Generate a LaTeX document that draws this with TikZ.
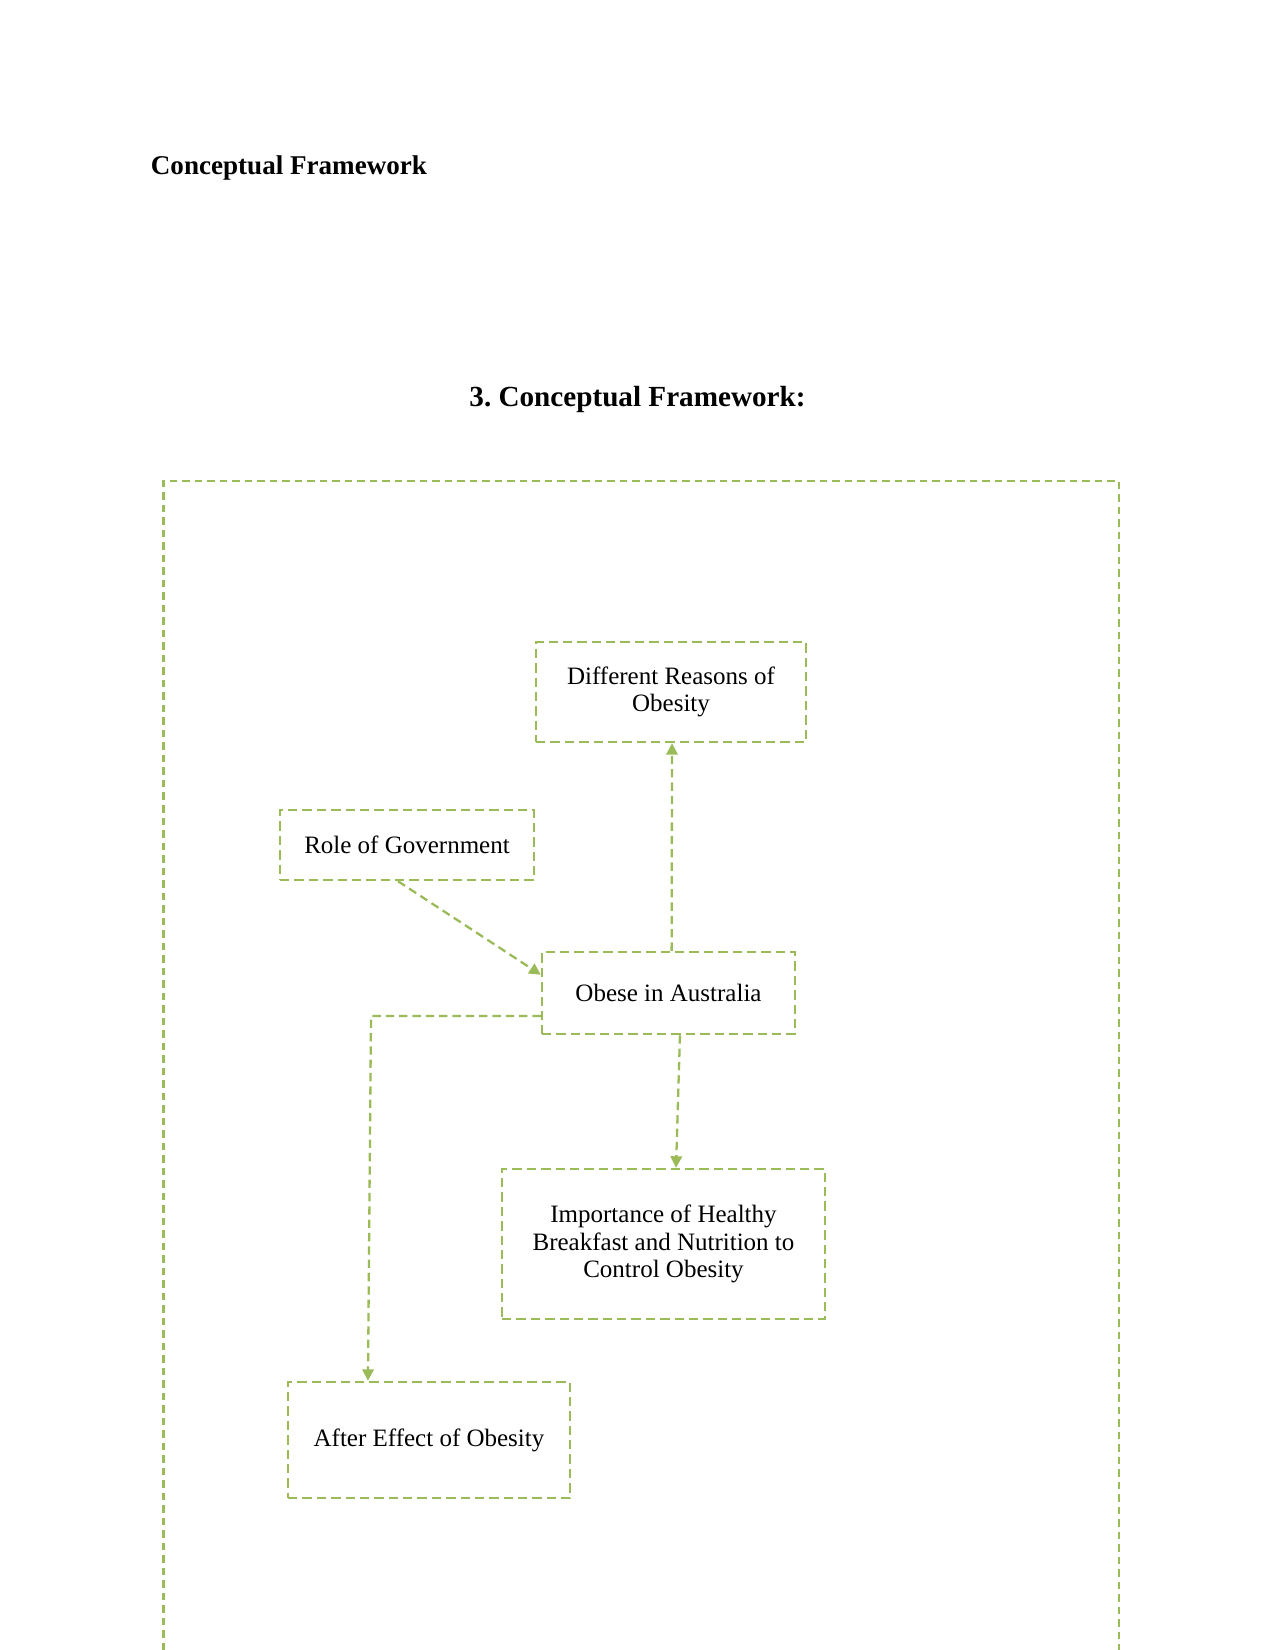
\documentclass[tikz,border=0pt]{standalone}
\usepackage{fontspec}
\setmainfont{Liberation Serif}
\usetikzlibrary{arrows.meta}
\definecolor{olive}{RGB}{155,187,89}
\frenchspacing
\begin{document}
\begin{tikzpicture}[x=0.48pt,y=-0.48pt,
  box/.style={draw=olive, line width=1.2pt, dash pattern=on 4.5pt off 2.4pt, align=center,
    font=\fontsize{12pt}{13.2pt}\selectfont, inner sep=0pt, anchor=center},
  arr/.style={draw=olive, line width=1.1pt, dash pattern=on 4pt off 2.4pt,
    -{Triangle[length=5.5pt,width=5.5pt]}},
  frame/.style={draw=olive, line width=1.2pt, dash pattern=on 3.6pt off 2.4pt}]
\useasboundingbox (0,0) rectangle (1275,1650);
\node[anchor=west, inner sep=0pt, font=\bfseries\fontsize{13pt}{15pt}\selectfont] (t1) at (150.5,168) {Conceptual Framework};
\node[font=\bfseries\fontsize{14pt}{16pt}\selectfont] (t2) at (637.5,399) {3. Conceptual Framework:};
\draw[frame] (163.5,1650) -- (163.5,481) -- (1119,481) -- (1119,1650);
\node[box, minimum width=270*0.48pt, minimum height=100*0.48pt] (diff) at (671,692) {Different Reasons of\\Obesity};
\node[box, minimum width=254*0.48pt, minimum height=70*0.48pt] (gov) at (407,845) {Role of Government};
\node[box, minimum width=253*0.48pt, minimum height=82*0.48pt] (obese) at (668.5,993) {Obese in Australia};
\node[box, minimum width=323*0.48pt, minimum height=150*0.48pt] (imp) at (663.5,1244) {Importance of Healthy\\Breakfast and Nutrition to\\Control Obesity};
\node[box, minimum width=282*0.48pt, minimum height=116*0.48pt] (after) at (429,1440) {After Effect of Obesity};
\draw[arr] ([xshift=1.5pt]obese.north) -- ([xshift=0.5pt]diff.south);
\draw[arr] ([xshift=-4.3pt]gov.south) -- ([yshift=-11.5pt]obese.north west);
\draw[arr] ([xshift=5.5pt]obese.south) -- ([xshift=6pt]imp.north);
\coordinate (elb) at (371,1016);
\draw[arr] ([yshift=-11pt]obese.west) -- (elb) -- ([xshift=-29.3pt]after.north);
\end{tikzpicture}
\end{document}
